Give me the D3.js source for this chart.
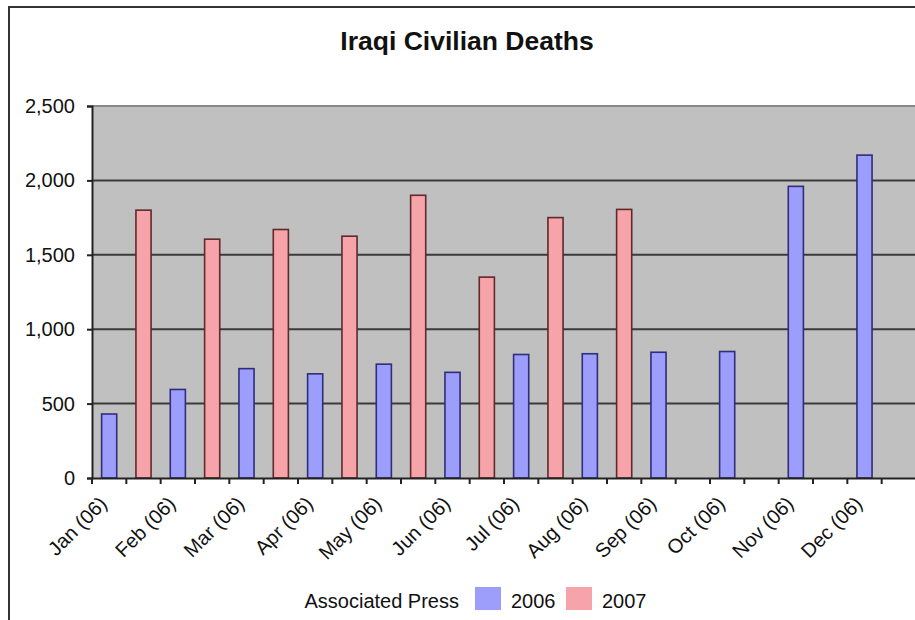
<!DOCTYPE html>
<html>
<head>
<meta charset="utf-8">
<script src="https://cdn.jsdelivr.net/npm/d3@7"></script>
<style>
  html, body { margin: 0; padding: 0; background: #fff; }
  svg { display: block; }
  text { font-family: Arial, "Liberation Sans", sans-serif; fill: #111; }
</style>
</head>
<body>
<div id="chart"></div>
<script>
// ---- data ----
const title = "Iraqi Civilian Deaths";
const months = ["Jan", "Feb", "Mar", "Apr", "May", "Jun", "Jul", "Aug", "Sep", "Oct", "Nov", "Dec"];
const deaths2006 = [430, 595, 735, 700, 765, 710, 830, 835, 845, 850, 1960, 2170];
const deaths2007 = [1800, 1605, 1670, 1625, 1900, 1350, 1750, 1805]; // Jan–Aug
const yTicks = [0, 500, 1000, 1500, 2000, 2500];
const seriesNames = ["2006", "2007"];
const legendTitle = "Associated Press";

// ---- layout ----
const W = 915, H = 620;
const plot = { left: 92, right: 916, top: 106, bottom: 478 };

const svg = d3.select("#chart").append("svg").attr("width", W).attr("height", H);

// outer frame (only top and left are visible)
svg.append("rect").attr("x", 9).attr("y", 7).attr("width", W + 20).attr("height", H + 20)
  .attr("fill", "#fff").attr("stroke", "#333").attr("stroke-width", 2);

// categories: alternating 2006 / 2007 slots
const slots = months.flatMap(m => [m + " (06)", m + " (07)"]);
const x = d3.scaleBand().domain(slots).range([plot.left, plot.right]).padding(0);
const y = d3.scaleLinear().domain([0, 2500]).range([plot.bottom, plot.top]);

// plot background
svg.append("rect").attr("x", plot.left).attr("y", plot.top)
  .attr("width", plot.right - plot.left).attr("height", plot.bottom - plot.top)
  .attr("fill", "#c0c0c0");

// top border of plot
svg.append("line").attr("x1", plot.left).attr("x2", plot.right)
  .attr("y1", y(2500)).attr("y2", y(2500)).attr("stroke", "#8a8a8a").attr("stroke-width", 2);

// gridlines
svg.append("g").selectAll("line").data(yTicks.filter(t => t > 0 && t < 2500)).join("line")
  .attr("x1", plot.left).attr("x2", plot.right)
  .attr("y1", d => y(d)).attr("y2", d => y(d))
  .attr("stroke", "#3a3a3a").attr("stroke-width", 2);

// bars
const bw = x.bandwidth() * 0.44;
const bars = [];
deaths2006.forEach((v, i) => bars.push({ slot: months[i] + " (06)", v, s: 0 }));
deaths2007.forEach((v, i) => bars.push({ slot: months[i] + " (07)", v, s: 1 }));
const fills = ["#9d9dfb", "#f7a3aa"];
const strokes = ["#2e2e7a", "#5e2a2a"];

svg.append("g").selectAll("rect").data(bars).join("rect")
  .attr("x", d => x(d.slot) + (x.bandwidth() - bw) / 2)
  .attr("y", d => y(d.v))
  .attr("width", bw)
  .attr("height", d => y(0) - y(d.v))
  .attr("fill", d => fills[d.s])
  .attr("stroke", d => strokes[d.s])
  .attr("stroke-width", 1.6);

// y axis
const yAxis = svg.append("g").attr("transform", `translate(${plot.left},0)`)
  .call(d3.axisLeft(y).tickValues(yTicks).tickSize(5).tickPadding(12)
    .tickFormat(d3.format(",")));
yAxis.select(".domain").attr("stroke", "#222").attr("stroke-width", 2);
yAxis.selectAll(".tick line").attr("stroke", "#222").attr("stroke-width", 2);
yAxis.selectAll("text").attr("font-size", 20).attr("fill", "#222");

// x axis
const xAxis = svg.append("g").attr("transform", `translate(0,${plot.bottom})`)
  .call(d3.axisBottom(x).tickSize(0).tickFormat(""));
xAxis.select(".domain").attr("stroke", "#222").attr("stroke-width", 2);
xAxis.selectAll(".tick").remove();

// x tick marks at slot boundaries
const bounds = slots.map(s => x(s)).concat([plot.right]);
svg.append("g").selectAll("line").data(bounds).join("line")
  .attr("x1", d => d).attr("x2", d => d)
  .attr("y1", plot.bottom).attr("y2", plot.bottom + 6)
  .attr("stroke", "#222").attr("stroke-width", 2);

// x labels for 2006 slots
svg.append("g").selectAll("text").data(months).join("text")
  .attr("transform", d => {
    const cx = x(d + " (06)") + x.bandwidth() / 2 - 1;
    return `translate(${cx},${plot.bottom + 27}) rotate(-45)`;
  })
  .attr("text-anchor", "end")
  .attr("font-size", 20)
  .attr("fill", "#222")
  .text(d => d + " (06)");

// title
svg.append("text").attr("x", 467).attr("y", 50).attr("text-anchor", "middle")
  .attr("font-size", 26.5).attr("font-weight", "bold").attr("fill", "#1a1a1a")
  .text(title);

// legend
const lg = svg.append("g");
lg.append("text").attr("x", 459).attr("y", 608).attr("text-anchor", "end")
  .attr("font-size", 20).attr("fill", "#111").text(legendTitle);
const legendX = [475, 566];
seriesNames.forEach((n, i) => {
  lg.append("rect").attr("x", legendX[i]).attr("y", 587).attr("width", 26).attr("height", 23)
    .attr("fill", fills[i]);
  lg.append("text").attr("x", legendX[i] + 36).attr("y", 608)
    .attr("font-size", 20).attr("fill", "#111").text(n);
});
</script>
</body>
</html>
